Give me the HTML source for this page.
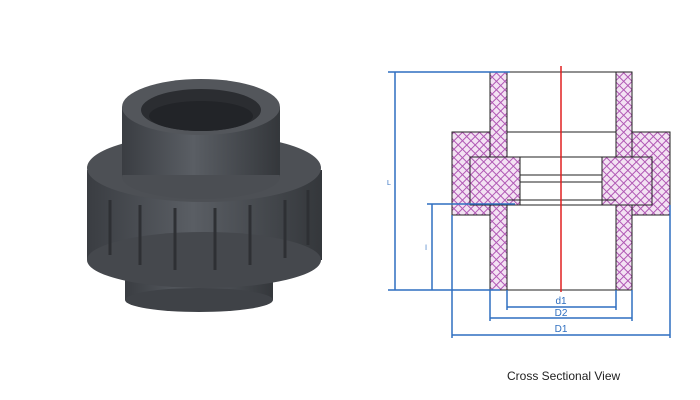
<!DOCTYPE html>
<html><head><style>
html,body{margin:0;padding:0;background:#fff;width:700px;height:400px;overflow:hidden}
svg{display:block}
</style></head><body>
<svg width="700" height="400" viewBox="0 0 700 400" xmlns="http://www.w3.org/2000/svg">
<defs>
<pattern id="h" width="6" height="6" patternUnits="userSpaceOnUse" patternTransform="rotate(45)">
<rect width="6" height="6" fill="#f3e2f3"/>
<line x1="0" y1="0" x2="0" y2="6" stroke="#b058b4" stroke-width="2"/>
<line x1="0" y1="0" x2="6" y2="0" stroke="#b058b4" stroke-width="2"/>
</pattern>
<linearGradient id="g" x1="0" x2="1">
<stop offset="0" stop-color="#3a3d42"/><stop offset="0.45" stop-color="#5a5e64"/><stop offset="1" stop-color="#34373b"/>
</linearGradient>
</defs>
<!-- photo fitting -->
<rect x="125" y="250" width="148" height="50" fill="url(#g)"/>
<ellipse cx="199" cy="300" rx="74" ry="12" fill="#3f4247"/>
<rect x="87" y="170" width="235" height="90" fill="url(#g)"/>
<ellipse cx="204" cy="260" rx="117" ry="28" fill="#45484d"/>
<ellipse cx="204" cy="168" rx="117" ry="34" fill="#4d5055"/>
<g stroke="#2e3034" stroke-width="3">
<line x1="110" y1="200" x2="110" y2="255"/><line x1="140" y1="205" x2="140" y2="265"/><line x1="175" y1="208" x2="175" y2="270"/><line x1="215" y1="208" x2="215" y2="270"/><line x1="250" y1="205" x2="250" y2="265"/><line x1="285" y1="200" x2="285" y2="258"/><line x1="308" y1="190" x2="308" y2="245"/>
</g>
<rect x="122" y="107" width="158" height="70" fill="url(#g)"/>
<ellipse cx="201" cy="177" rx="79" ry="22" fill="#4b4e53"/>
<rect x="122" y="107" width="158" height="68" fill="url(#g)"/>
<ellipse cx="201" cy="107" rx="79" ry="28" fill="#53565b"/>
<ellipse cx="201" cy="110" rx="60" ry="21" fill="#2b2d31"/>
<ellipse cx="201" cy="116" rx="52" ry="15" fill="#222428"/>
<!-- cross-section -->
<g stroke="#222" stroke-width="1">
<rect x="452" y="132" width="218" height="83" fill="url(#h)"/>
<rect x="490" y="72" width="142" height="90" fill="url(#h)"/>
<rect x="490" y="200" width="142" height="90" fill="url(#h)"/>
<rect x="507" y="72" width="109" height="218" fill="#fff"/>
<rect x="470" y="157" width="182" height="48" fill="url(#h)"/>
<rect x="520" y="157" width="82" height="48" fill="#fff"/>
<line x1="520" y1="175" x2="602" y2="175"/><line x1="520" y1="182" x2="602" y2="182"/>
<line x1="507" y1="132" x2="616" y2="132"/>
<line x1="507" y1="200" x2="616" y2="200"/>
</g>
<g stroke="#2f6fc0" stroke-width="1.5" fill="none">
<line x1="388" y1="72" x2="510" y2="72"/>
<line x1="395" y1="72" x2="395" y2="290"/>
<line x1="388" y1="290" x2="500" y2="290"/>
<line x1="427" y1="204" x2="515" y2="204"/>
<line x1="432" y1="204" x2="432" y2="290"/>
<line x1="507" y1="290" x2="507" y2="310"/><line x1="616" y1="290" x2="616" y2="310"/>
<line x1="490" y1="290" x2="490" y2="321"/><line x1="632" y1="290" x2="632" y2="321"/>
<line x1="452" y1="215" x2="452" y2="338"/><line x1="670" y1="205" x2="670" y2="338"/>
<line x1="507" y1="307" x2="616" y2="307"/>
<line x1="490" y1="318" x2="632" y2="318"/>
<line x1="452" y1="335" x2="670" y2="335"/>
</g>
<line x1="561" y1="66" x2="561" y2="292" stroke="#e02020" stroke-width="1.5"/>
<g font-family="Liberation Sans, sans-serif" font-size="10" fill="#2f6fc0" text-anchor="middle">
<text x="561" y="304">d1</text><text x="561" y="316">D2</text><text x="561" y="332">D1</text>
<text x="389" y="185" font-size="7">L</text><text x="426" y="250" font-size="7">l</text>
</g>
<text x="507" y="380" font-family="Liberation Sans, sans-serif" font-size="12" fill="#222">Cross Sectional View</text>
</svg>
</body></html>
